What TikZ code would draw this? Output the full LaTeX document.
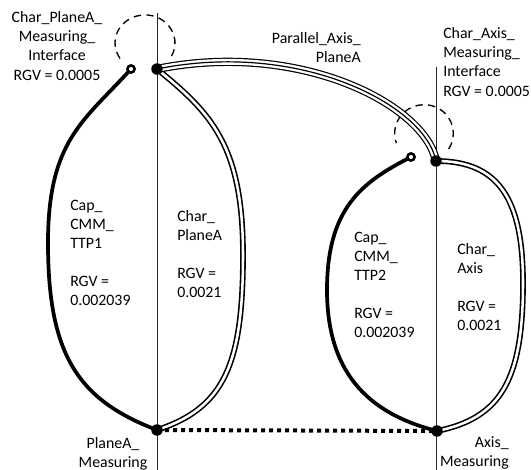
\documentclass[tikz,border=0pt]{standalone}
\usepackage{fontspec}
\setmainfont{Carlito}
\usetikzlibrary{calc,positioning}
\tikzset{
  refline/.style={line width=0.6pt,black!85},
  thickpath/.style={line width=2.8pt},
  dblpath/.style={double,line width=1.2pt,double distance=1.9pt},
  triplepath/.style={line width=6.2pt,postaction={draw,white,line width=4.4pt},postaction={draw,black,line width=0.9pt}},
  dotpath/.style={line width=3pt,dash pattern=on 3pt off 3pt},
  dashcirc/.style={line width=1pt,dash pattern=on 5.5pt off 4pt},
  opendot/.style={circle,draw,line width=1.9pt,fill=white,minimum size=5.4pt,inner sep=0pt},
  fulldot/.style={circle,fill=black,minimum size=8.6pt,inner sep=0pt},
  lbl/.style={inner sep=0pt,font=\fontsize{11.9}{14.3}\selectfont},
}

\begin{document}
\begin{tikzpicture}[x=0.75pt,y=0.75pt]
\useasboundingbox (0,0) rectangle (531,470);
% points of the two loops
\coordinate (pAo) at (131,401);
\coordinate (pAf) at (157,401);
\coordinate (pAm) at (157,40);
\coordinate (axo) at (411,313);
\coordinate (axf) at (436,309);
\coordinate (axm) at (437,39);
\coordinate (pAtop) at (157,457);
\coordinate (pAbot) at (157,0);
\coordinate (axtop) at (436,403);
\coordinate (axbot) at (436,0);

\draw[refline] (pAtop) -- (pAbot);
\draw[refline] (axtop) -- (axbot);

% interfaces
\draw[dashcirc] ($(145,428)+(-28:22.5pt)$) arc[start angle=-28,end angle=222,x radius=22.5pt,y radius=21pt];
\draw[dashcirc] ($(424,337)+(-33:22pt)$) arc[start angle=-33,end angle=200,x radius=22pt,y radius=21.5pt];

% loop PlaneA
\draw[thickpath] (pAo) .. controls (84,349) and (48,330) .. (48,227)
  .. controls (48,115) and (78,70) .. (pAm);
\draw[dblpath] (pAf) .. controls (211,357) and (243,325) .. (243,215)
  .. controls (243,105) and (224,62) .. (pAm);

% loop Axis
\draw[thickpath] (axo) .. controls (362,288) and (327,262) .. (327,180)
  .. controls (327,92) and (374,55) .. (axm);
\draw[dblpath] (axf) .. controls (498,309) and (523,272) .. (523,187)
  .. controls (523,90) and (501,52) .. (axm);

\draw[triplepath] (pAf) .. controls (300,430) and (425,365) .. (axf);
\draw[dotpath] (pAm) -- (axm);

\node[opendot] (pAoDot) at (pAo) {};
\node[fulldot] (pAfDot) at (pAf) {};
\node[fulldot] (pAmDot) at (pAm) {};
\node[opendot] (axoDot) at (axo) {};
\node[fulldot] (axfDot) at (axf) {};
\node[fulldot] (axmDot) at (axm) {};

\node[lbl,align=center] (lblPlaneIf) at (57,424) {Char\_PlaneA\_\\Measuring\_\\Interface\\RGV = 0.0005};
\node[lbl,align=right,anchor=east] (lblParallel) at (361,422) {Parallel\_Axis\_\\PlaneA};
\node[lbl,align=left,anchor=west] (lblAxisIf) at (443,408) {Char\_Axis\_\\Measuring\_\\Interface\\RGV = 0.0005};
\node[lbl,align=left,anchor=west] (lblCap1) at (70,217) {Cap\_\\CMM\_\\TTP1\\~\\RGV =\\0.002039};
\node[lbl,align=left,anchor=west] (lblCharPlane) at (177,216) {Char\_\\PlaneA\\~\\RGV =\\0.0021};
\node[lbl,align=left,anchor=west] (lblCap2) at (354,185) {Cap\_\\CMM\_\\TTP2\\~\\RGV =\\0.002039};
\node[lbl,align=left,anchor=west] (lblCharAxis) at (457,183) {Char\_\\Axis\\~\\RGV =\\0.0021};
\node[lbl,align=center] (lblPlaneMeas) at (113,16) {PlaneA\_\\Measuring};
\node[lbl,align=right,anchor=east] (lblAxisMeas) at (509,17) {Axis\_\\Measuring};
\end{tikzpicture}
\end{document}
